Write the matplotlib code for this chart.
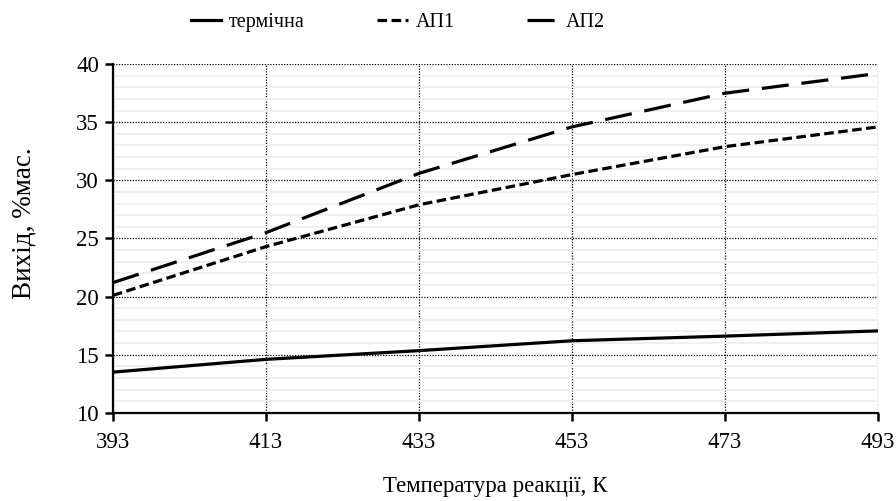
import matplotlib
matplotlib.use("Agg")
import matplotlib.pyplot as plt
from matplotlib.ticker import MultipleLocator

plt.rcParams['font.family'] = ['Liberation Serif', 'DejaVu Serif']

temps = [393, 413, 433, 453, 473, 493]
thermal = [13.5, 14.6, 15.35, 16.2, 16.6, 17.05]
ap1 = [20.1, 24.3, 27.9, 30.5, 32.9, 34.6]
ap2 = [21.2, 25.5, 30.6, 34.6, 37.5, 39.2]
labels = ["термічна", "АП1", "АП2"]

fig = plt.figure(figsize=(8.96, 5.01), dpi=100)
ax = fig.add_axes([0.126, 0.176, 0.854, 0.696])

ax.set_xlim(393, 493)
ax.set_ylim(10, 40)
ax.set_xticks(temps)
ax.yaxis.set_major_locator(MultipleLocator(5))
ax.yaxis.set_minor_locator(MultipleLocator(1))

ax.grid(True, which='minor', axis='y', color='#efefef', lw=1.3, zorder=0)
ax.grid(True, which='major', color='black', ls=(0, (1, 1.2)), lw=0.9, zorder=1)
ax.set_axisbelow(True)

lw = 2.3
ax.plot(temps, thermal, color='black', lw=lw, label=labels[0], zorder=3)
ax.plot(temps, ap1, color='black', lw=lw, ls=(0, (3.0, 1.4)), label=labels[1], zorder=3)
ax.plot(temps, ap2, color='black', lw=lw, ls=(0, (8.5, 4)), label=labels[2], zorder=3)

for s in ['top', 'right']:
    ax.spines[s].set_visible(False)
for s in ['left', 'bottom']:
    ax.spines[s].set_linewidth(1.6)

ax.tick_params(which='major', direction='out', length=6, width=1.8, labelsize=16.5, pad=4)
ax.tick_params(which='minor', length=0)
ax.tick_params(axis='x', pad=8)

ax.set_xlabel("Температура реакції, К", fontsize=16.5)
ax.xaxis.set_label_coords(0.499, -0.212)
ax.set_ylabel("Вихід, %мас.", fontsize=19.5)
ax.yaxis.set_label_coords(-0.116, 0.544)
ax.yaxis.label.set_va('center')
ax.xaxis.label.set_va('center')

fig.legend(loc='upper center', bbox_to_anchor=(0.444, 1.01), ncol=3, frameon=False,
           fontsize=14.5, handlelength=1.5, columnspacing=3.6, handletextpad=0.4)

fig.savefig("out.png", dpi=100)
